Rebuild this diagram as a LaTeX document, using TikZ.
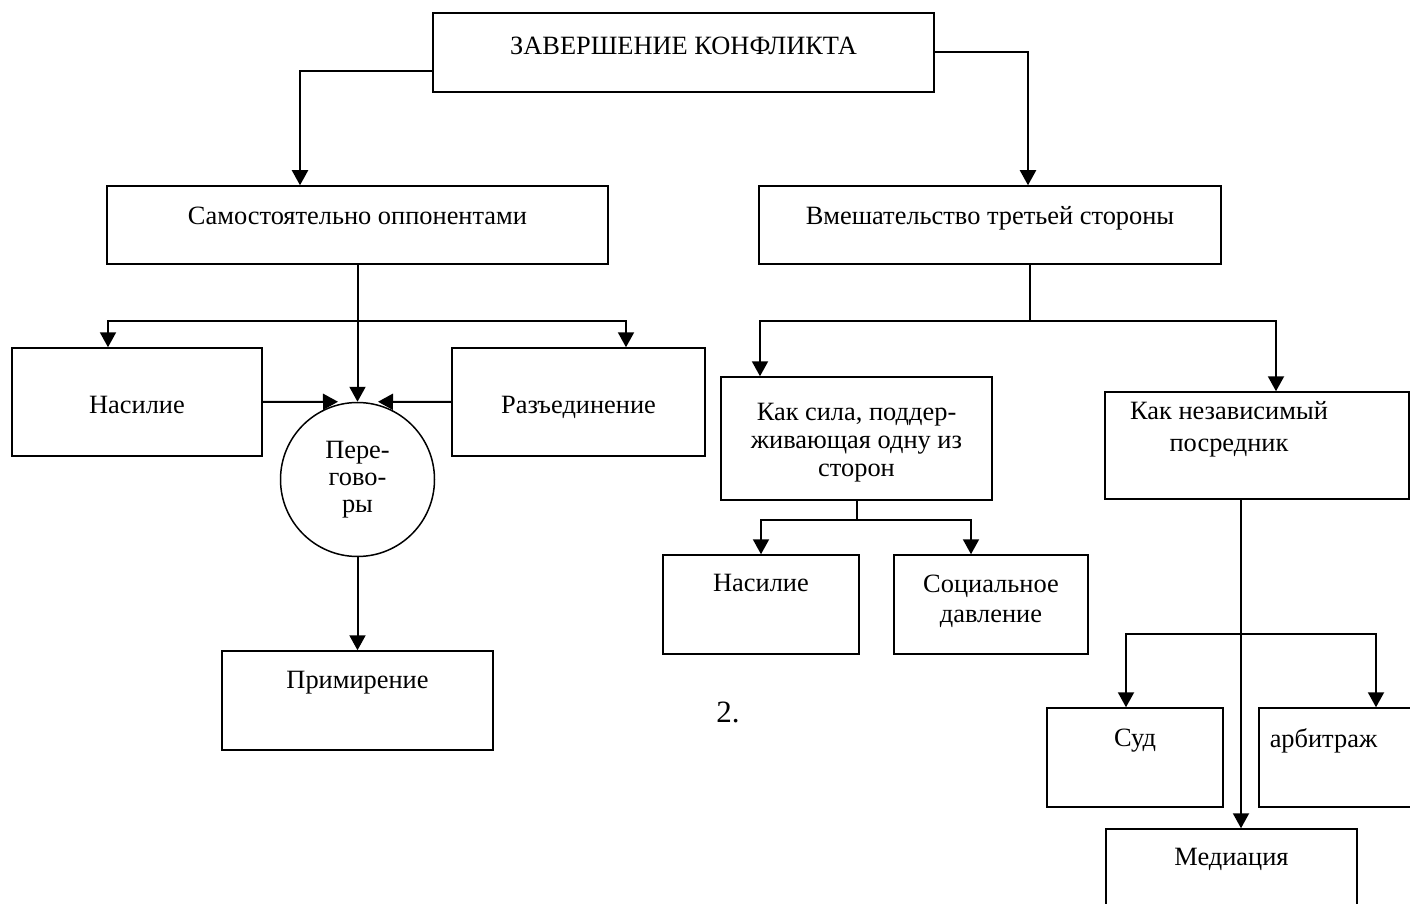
\documentclass[tikz,border=0pt]{standalone}
\usepackage{fontspec}
\setmainfont{Liberation Serif}
\usetikzlibrary{arrows.meta}
\usetikzlibrary{positioning,calc}

\begin{document}
\begin{tikzpicture}[
  x=0.5pt, y=-0.5pt,
  box/.style={draw, line width=0.75pt, inner sep=0pt},
  txt/.style={anchor=north, align=center, inner sep=0pt, font=\fontsize{13.2}{14}\selectfont},
  arr/.style={line width=1pt, -{Triangle[length=7.5pt, width=8pt]}},
  link/.style={line width=1pt}
]
\clip (0,0) rectangle (1410,904);

% boxes
\node[box, minimum width=250.5pt, minimum height=39.5pt] (top)     at (683.5,52.5)  {};
\node[box, minimum width=250.5pt, minimum height=39pt]   (samost)  at (357.5,225)   {};
\node[box, minimum width=231pt,   minimum height=39pt]   (vmesh)   at (990,225)     {};
\node[box, minimum width=125pt,   minimum height=54pt]   (nas)     at (137,402)     {};
\node[box, minimum width=126.5pt, minimum height=54pt]   (razd)    at (578.5,402)   {};
\node[box, circle, minimum size=77pt, align=center,
      font=\fontsize{13.2}{13.5}\selectfont]             (pereg)   at (357.5,479.5) {Пере-\\гово-\\ры};
\node[box, minimum width=135.5pt, minimum height=49.5pt] (prim)    at (357.5,700.5) {};
\node[box, minimum width=135.5pt, minimum height=61.5pt] (kaksila) at (856.5,438.5) {};
\node[box, minimum width=152pt,   minimum height=53.5pt] (kaknez)  at (1257,445.5)  {};
\node[box, minimum width=98pt,    minimum height=49.5pt] (nasb)    at (761,604.5)   {};
\node[box, minimum width=97pt,    minimum height=49.5pt] (soc)     at (991,604.5)   {};
\node[box, minimum width=88pt,    minimum height=49.5pt] (sud)     at (1135,757.5)  {};
\node[box, minimum width=90.5pt,  minimum height=49.5pt] (arb)     at (1349.5,757.5) {};
\node[box, minimum width=125.5pt, minimum height=50.5pt] (med)     at (1231.5,879.5) {};

% texts
\node[txt, below=12pt of top.north]                  (topt)     {ЗАВЕРШЕНИЕ КОНФЛИКТА};
\node[txt, below=10.5pt of samost.north]             (samostt)  {Самостоятельно оппонентами};
\node[txt, below=10.5pt of vmesh.north]              (vmesht)   {Вмешательство третьей стороны};
\node[txt, below=24.5pt of nas.north]                (nast)     {Насилие};
\node[txt, below=24.5pt of razd.north]               (razdt)    {Разъединение};
\node[txt, below=10.5pt of prim.north]               (primt)    {Примирение};
\node[txt, below=13.5pt of kaksila.north]            (kaksilat) {Как сила, поддер-\\живающая одну из\\сторон};
\node[txt, below=5pt of kaknez.north, xshift=-14pt,
      font=\fontsize{13.2}{16}\selectfont]           (kaknezt)  {Как независимый\\посредник};
\node[txt, below=10pt of nasb.north]                 (nasbt)    {Насилие};
\node[txt, below=10pt of soc.north,
      font=\fontsize{13.2}{15}\selectfont]           (soct)     {Социальное\\давление};
\node[txt, below=10.5pt of sud.north]                (sudt)     {Суд};
\node[txt, below=10.5pt of arb.north, xshift=-13pt]  (arbt)     {арбитраж};
\node[txt, below=10pt of med.north]                  (medt)     {Медиация};
\node[txt, anchor=center, font=\fontsize{15.5}{16}\selectfont] (num) at (728,712) {2.};

% bars
\coordinate (lbar) at ($(samost.south)+(0,56)$);
\coordinate (rbar) at ($(vmesh.south)+(40,56)$);
\coordinate (sbar) at ($(kaksila.south)+(0,19)$);
\coordinate (mbar) at ($(kaknez.south)+(-16,134)$);

% connectors
\draw[arr] ($(top.west)+(0,18.5)$) -| ($(samost.north)+(-57.5,0)$);
\draw[arr] (top.east) -| ($(vmesh.north)+(38,0)$);

\draw[arr] (samost.south) -- (pereg.north);
\draw[arr] (lbar) -| ($(nas.north)+(-29,0)$);
\draw[arr] (lbar) -| ($(razd.north)+(47.5,0)$);
\draw[arr] (nas.east) -- ($(pereg.north)+(-19.5,0)$);
\draw[arr] (razd.west) -- ($(pereg.north)+(20.5,0)$);
\draw[arr] (pereg.south) -- (prim.north);

\draw[link] (vmesh.south -| rbar) -- (rbar);
\draw[arr] (rbar) -| ($(kaksila.north)+(-96.5,0)$);
\draw[arr] (rbar) -| ($(kaknez.north)+(19,0)$);

\draw[link] (kaksila.south) -- (sbar);
\draw[arr] (sbar) -| (nasb.north);
\draw[arr] (sbar) -| ($(soc.north)+(-20,0)$);

\draw[arr] ($(kaknez.south)+(-16,0)$) -- ($(med.north)+(9.5,0)$);
\draw[arr] (mbar) -| ($(sud.north)+(-9,0)$);
\draw[arr] (mbar) -| ($(arb.north)+(26.5,0)$);
\end{tikzpicture}
\end{document}
